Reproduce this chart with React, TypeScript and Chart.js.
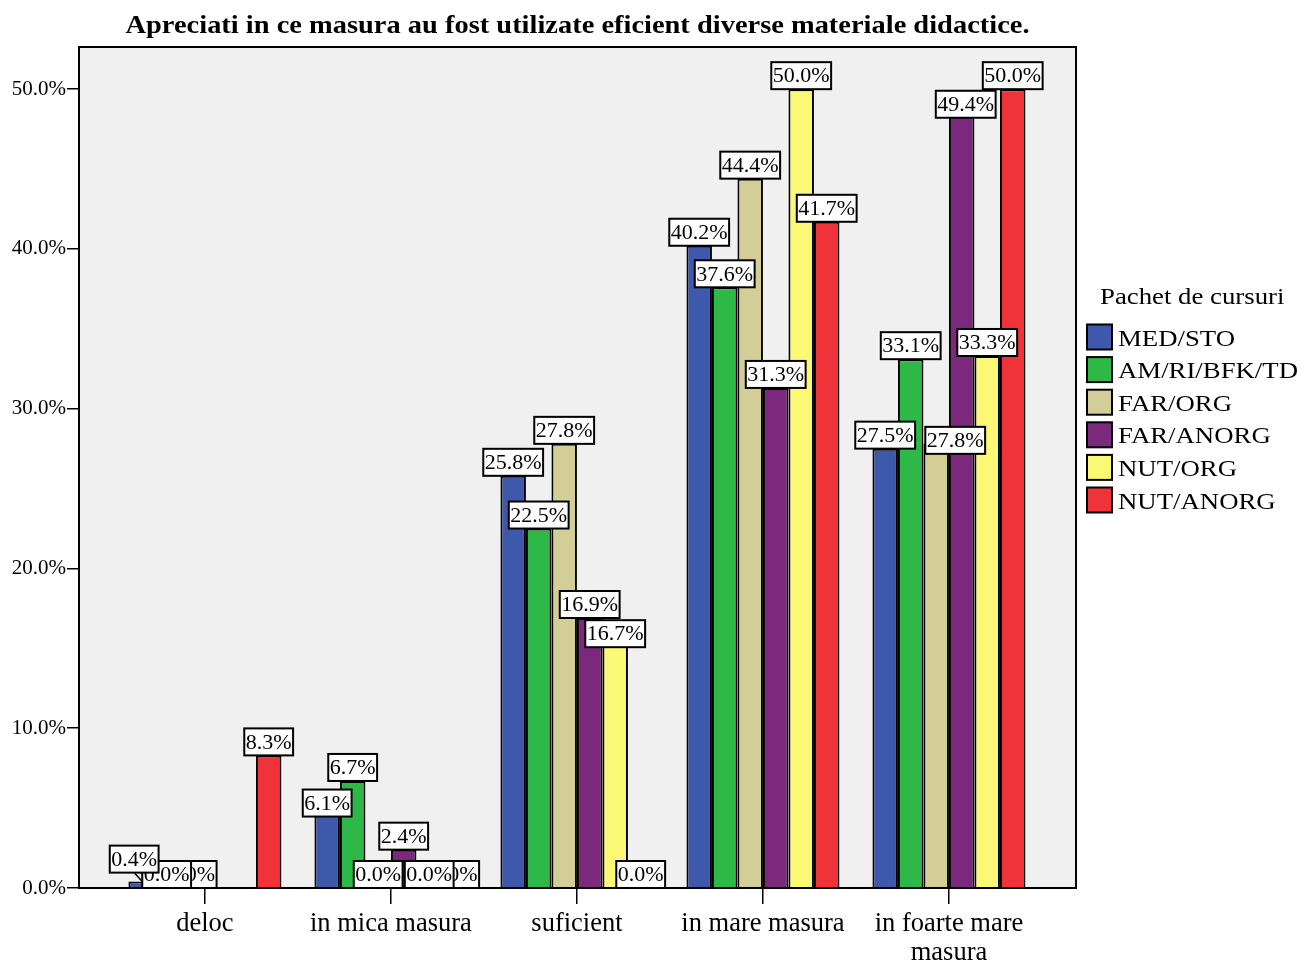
import React, { useEffect, useRef } from "react";
import { Chart, registerables } from "chart.js";

Chart.register(...registerables);

const titleText = "Apreciati in ce masura au fost utilizate eficient diverse materiale didactice.";
const legendTitle = "Pachet de cursuri";
const categories = ["deloc", "in mica masura", "suficient", "in mare masura", "in foarte mare masura"];
const tickLabels = [["deloc"], ["in mica masura"], ["suficient"], ["in mare masura"], ["in foarte mare", "masura"]];
const seriesNames = ["MED/STO", "AM/RI/BFK/TD", "FAR/ORG", "FAR/ANORG", "NUT/ORG", "NUT/ANORG"];
const medSto = [0.4, 6.1, 25.8, 40.2, 27.5];
const amRiBfkTd = [0.0, 6.7, 22.5, 37.6, 33.1];
const farOrg = [0.0, 0.0, 27.8, 44.4, 27.8];
const farAnorg = [null, 2.4, 16.9, 31.3, 49.4];
const nutOrg = [null, 0.0, 16.7, 50.0, 33.3];
const nutAnorg = [8.3, 0.0, 0.0, 41.7, 50.0];
const yTickValues = [0, 10, 20, 30, 40, 50];
const colors = ["#3E58AC", "#2EB848", "#D3CE97", "#7C287D", "#FBF873", "#EF3338"];

// label nudges (px) for labels moved to avoid collisions: "dataset-category" -> [dx, dy]
const labelNudges: Record<string, [number, number]> = {
  "0-0": [-7, -9],
  "0-1": [0, 26],
  "4-2": [0, 26],
  "2-4": [19, 10],
  "3-4": [4, 19],
};
const labelConnectors = ["0-0"];

const FONT = "'Liberation Serif', 'Times New Roman', serif";

function stretchedText(ctx: CanvasRenderingContext2D, text: string, x: number, y: number, sx: number) {
  ctx.save();
  ctx.translate(x, y);
  ctx.scale(sx, 1);
  ctx.fillText(text, 0, 0);
  ctx.restore();
}

export default function App() {
  const canvasRef = useRef<HTMLCanvasElement | null>(null);

  useEffect(() => {
    const canvas = canvasRef.current;
    if (!canvas) return;
    const series = [medSto, amRiBfkTd, farOrg, farAnorg, nutOrg, nutAnorg];

    const framePlugin = {
      id: "frame",
      beforeDatasetsDraw(chart: any) {
        const { ctx, chartArea: a } = chart;
        ctx.save();
        ctx.fillStyle = "#F0F0F0";
        ctx.fillRect(a.left, a.top, a.right - a.left, a.bottom - a.top);
        ctx.restore();
      },
      afterDatasetsDraw(chart: any) {
        const { ctx, chartArea: a } = chart;
        ctx.save();
        ctx.strokeStyle = "#000";
        ctx.lineWidth = 2;
        ctx.strokeRect(a.left, a.top, a.right - a.left, a.bottom - a.top);
        ctx.restore();

        // data labels, drawn in reverse dataset order
        ctx.save();
        ctx.font = `22px ${FONT}`;
        ctx.textAlign = "center";
        ctx.textBaseline = "middle";
        for (let d = chart.data.datasets.length - 1; d >= 0; d--) {
          const meta = chart.getDatasetMeta(d);
          meta.data.forEach((bar: any, i: number) => {
            const pt = chart.data.datasets[d].data[i];
            const v = pt ? pt.y : null;
            if (v == null) return;
            const text = v.toFixed(1) + "%";
            const key = `${d}-${i}`;
            const [dx, dy] = labelNudges[key] || [0, 0];
            const w = ctx.measureText(text).width + 3;
            const h = 27;
            const cx = bar.x + dx;
            const bottom = bar.y + dy;
            if (labelConnectors.includes(key)) {
              ctx.strokeStyle = "#000";
              ctx.lineWidth = 1.5;
              ctx.beginPath();
              ctx.moveTo(cx, bottom);
              ctx.lineTo(bar.x + 1, bar.y);
              ctx.stroke();
            }
            ctx.fillStyle = "#FFFFFF";
            ctx.fillRect(cx - w / 2, bottom - h, w, h);
            ctx.strokeStyle = "#000";
            ctx.lineWidth = 2;
            ctx.strokeRect(cx - w / 2, bottom - h, w, h);
            ctx.fillStyle = "#000";
            ctx.fillText(text, cx, bottom - h / 2 + 1);
          });
        }
        ctx.restore();
      },
      afterDraw(chart: any) {
        const { ctx, chartArea: a } = chart;
        ctx.save();
        // title
        ctx.fillStyle = "#000";
        ctx.font = `bold 26px ${FONT}`;
        ctx.textAlign = "left";
        ctx.textBaseline = "alphabetic";
        const tw = ctx.measureText(titleText).width;
        const tsx = 904 / tw;
        stretchedText(ctx, titleText, (a.left + a.right) / 2 - 452, 33, tsx);
        // legend
        const lx = a.right + 11;
        ctx.font = `24px ${FONT}`;
        const lsx = 180 / ctx.measureText("AM/RI/BFK/TD").width;
        stretchedText(ctx, legendTitle, lx + 13, 304, lsx);
        chart.data.datasets.forEach((ds: any, i: number) => {
          const cy = 337 + i * 32.6;
          ctx.fillStyle = ds.backgroundColor;
          ctx.fillRect(lx, cy - 12.5, 25, 25);
          ctx.strokeStyle = "#000";
          ctx.lineWidth = 2;
          ctx.strokeRect(lx, cy - 12.5, 25, 25);
          ctx.fillStyle = "#000";
          ctx.textBaseline = "alphabetic";
          stretchedText(ctx, ds.label, lx + 31, cy + 8.5, lsx);
        });
        ctx.restore();
      },
    };

    const chart = new Chart(canvas, {
      type: "bar",
      data: {
        datasets: series.map((vals, d) => ({
          label: seriesNames[d],
          data: vals.map((v, i) => ({ x: i, y: v })),
          backgroundColor: colors[d],
          borderColor: "#000",
          borderWidth: 2,
          categoryPercentage: 0.8226,
          barPercentage: 1,
        })),
      },
      options: {
        animation: false,
        responsive: true,
        maintainAspectRatio: false,
        layout: { padding: { left: 0, top: 47, right: 228, bottom: 0 } },
        plugins: {
          legend: { display: false },
          title: { display: false },
          tooltip: { enabled: false },
        },
        scales: {
          x: {
            type: "linear",
            offset: false,
            min: -0.677,
            max: 4.683,
            grid: { offset: false, drawOnChartArea: false, tickLength: 16, color: "#000", lineWidth: 1.5 },
            border: { display: false },
            afterBuildTicks: (scale: any) => {
              scale.ticks = categories.map((_, i) => ({ value: i }));
            },
            ticks: {
              autoSkip: false,
              maxRotation: 0,
              padding: 5,
              color: "#000",
              font: { family: FONT, size: 26.5, lineHeight: 1.1 },
              callback: (v: any) => {
                const idx = Math.round(Number(v));
                return tickLabels[idx] ? tickLabels[idx] : "";
              },
            },
            afterFit: (scale: any) => {
              scale.height = 74;
            },
          },
          y: {
            min: 0,
            max: 52.64,
            grid: { drawOnChartArea: false, tickLength: 12, color: "#000", lineWidth: 1.5 },
            border: { display: false },
            afterBuildTicks: (scale: any) => {
              scale.ticks = yTickValues.map((v) => ({ value: v }));
            },
            ticks: {
              padding: 1,
              color: "#000",
              font: { family: FONT, size: 21 },
              callback: (v: any) => Number(v).toFixed(1) + "%",
            },
            afterFit: (scale: any) => {
              scale.width = 79;
            },
          },
        },
      },
      plugins: [framePlugin],
    });
    return () => chart.destroy();
  }, []);

  return (
    <div style={{ position: "absolute", left: 0, top: 0, width: 1304, height: 962, background: "#fff" }}>
      <canvas ref={canvasRef} />
    </div>
  );
}
